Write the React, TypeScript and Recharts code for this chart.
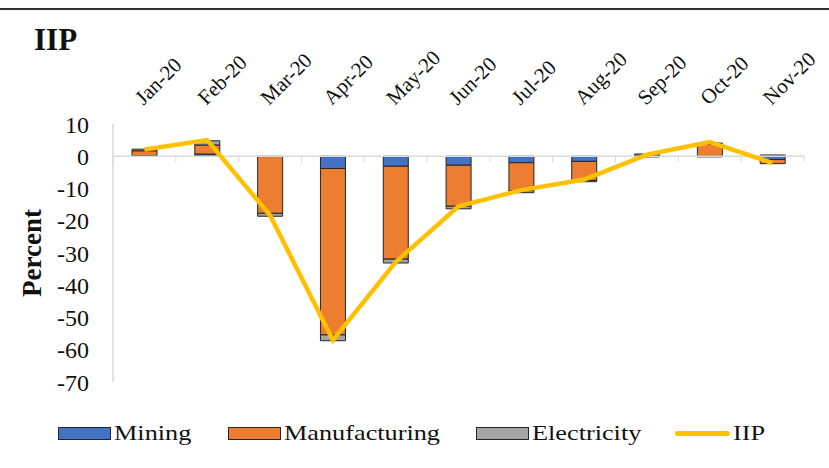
import React from "react";
import {
  ComposedChart,
  Bar,
  Line,
  XAxis,
  YAxis,
  ReferenceLine
} from "recharts";

const months = ["Jan-20", "Feb-20", "Mar-20", "Apr-20", "May-20", "Jun-20", "Jul-20", "Aug-20", "Sep-20", "Oct-20", "Nov-20"];
const mining = [0.2, 0.7, -0.1, -3.8, -3.1, -2.8, -2.0, -1.6, -0.2, -0.2, -1.0];
const manufacturing = [1.5, 2.8, -17.6, -51.6, -28.8, -12.7, -8.7, -5.9, 0.3, 3.7, -1.3];
const electricity = [0.5, 1.3, -0.9, -1.8, -1.2, -0.8, -0.6, -0.4, 0.4, 0.4, 0.4];
const iip = [2.1, 5.0, -18.3, -57.0, -32.8, -15.5, -10.5, -7.2, 0.5, 4.4, -2.1];
const yTicks = [10, 0, -10, -20, -30, -40, -50, -60, -70];

const data = months.map((m, i) => ({
  month: m,
  Mining: mining[i],
  Manufacturing: manufacturing[i],
  Electricity: electricity[i],
  IIP: iip[i]
}));

const FONT = '"Liberation Serif", "Times New Roman", serif';
const TEXT = "#111";

function MonthTick(props: any) {
  const { x, y, payload } = props;
  return (
    <text
      x={0}
      y={0}
      transform={`translate(${x - 1},${y - 18}) rotate(-45)`}
      textAnchor="start"
      fontFamily={FONT}
      fontSize={21}
      fill={TEXT}
    >
      {payload.value}
    </text>
  );
}

// zero axis line with category boundary tick marks
function ZeroAxis(props: any) {
  const { x1, y1, x2 } = props;
  const n = months.length;
  const step = (x2 - x1) / n;
  const ticks = [];
  for (let i = 0; i <= n; i++) {
    const tx = x1 + i * step;
    ticks.push(<line key={i} x1={tx} x2={tx} y1={y1} y2={y1 + 6} stroke="#d9d9d9" strokeWidth={1} />);
  }
  return (
    <g>
      <line x1={x1} x2={x2} y1={y1} y2={y1} stroke="#d9d9d9" strokeWidth={1.5} />
      {ticks}
    </g>
  );
}

function PercentLabel(props: any) {
  const vb = props.viewBox || { x: 53, y: 124, width: 60, height: 258 };
  const cx = vb.x - 12;
  const cy = vb.y + vb.height / 2;
  return (
    <text
      x={cx}
      y={cy}
      transform={`rotate(-90 ${cx} ${cy})`}
      textAnchor="middle"
      fontFamily={FONT}
      fontWeight="bold"
      fontSize={27}
      fill={TEXT}
    >
      Percent
    </text>
  );
}

const legendItems = [
  { name: "Mining", color: "#4472C4", type: "bar", left: 58 },
  { name: "Manufacturing", color: "#ED7D31", type: "bar", left: 228 },
  { name: "Electricity", color: "#A5A5A5", type: "bar", left: 476 },
  { name: "IIP", color: "#FFC000", type: "line", left: 675 }
];

export default function App() {
  return (
    <div style={{ position: "absolute", left: 0, top: 0, width: 829, height: 468, background: "#fff", fontFamily: FONT }}>
      <div style={{ position: "absolute", left: 0, top: 8, width: 829, borderTop: "2px solid #333" }} />
      <div
        style={{
          position: "absolute",
          left: 34,
          top: 24,
          fontSize: 31,
          lineHeight: "31px",
          fontWeight: "bold",
          color: TEXT
        }}
      >
        IIP
      </div>
      <ComposedChart
        width={829}
        height={468}
        data={data}
        stackOffset="sign"
        margin={{ top: 94, right: 25, left: 53, bottom: 86 }}
      >
        <XAxis
          dataKey="month"
          orientation="top"
          height={30}
          interval={0}
          axisLine={false}
          tickLine={false}
          tickSize={0}
          tickMargin={0}
          tick={<MonthTick />}
        />
        <YAxis
          type="number"
          domain={[-70, 10]}
          ticks={yTicks}
          interval={0}
          width={60}
          tickSize={0}
          tickMargin={24}
          tickLine={false}
          axisLine={{ stroke: "#d9d9d9", strokeWidth: 1.5 }}
          tick={{ fontSize: 24, fill: TEXT, fontFamily: FONT }}
          label={<PercentLabel />}
        />
        <ReferenceLine y={0} shape={(p: any) => <ZeroAxis {...p} />} />
        <Bar dataKey="Mining" stackId="a" fill="#4472C4" stroke="#262626" strokeWidth={1} barSize={25} isAnimationActive={false} />
        <Bar dataKey="Manufacturing" stackId="a" fill="#ED7D31" stroke="#262626" strokeWidth={1} barSize={25} isAnimationActive={false} />
        <Bar dataKey="Electricity" stackId="a" fill="#A5A5A5" stroke="#262626" strokeWidth={1} barSize={25} isAnimationActive={false} />
        <Line dataKey="IIP" type="linear" stroke="#FFC000" strokeWidth={4.5} dot={false} isAnimationActive={false} />
      </ComposedChart>
      {legendItems.map((it) => (
        <div
          key={it.name}
          style={{
            position: "absolute",
            left: it.left,
            top: 420,
            height: 26,
            display: "flex",
            alignItems: "center",
            fontSize: 21,
            color: TEXT,
            whiteSpace: "nowrap"
          }}
        >
          {it.type === "bar" ? (
            <span
              style={{
                display: "inline-block",
                width: 51,
                height: 11,
                background: it.color,
                border: "1px solid #262626",
                marginRight: 3
              }}
            />
          ) : (
            <span
              style={{
                display: "inline-block",
                width: 55,
                height: 5,
                borderRadius: 3,
                background: it.color,
                marginRight: 3
              }}
            />
          )}
          <span style={{ display: "inline-block", transform: "scaleX(1.25)", transformOrigin: "left center" }}>
            {it.name}
          </span>
        </div>
      ))}
    </div>
  );
}
